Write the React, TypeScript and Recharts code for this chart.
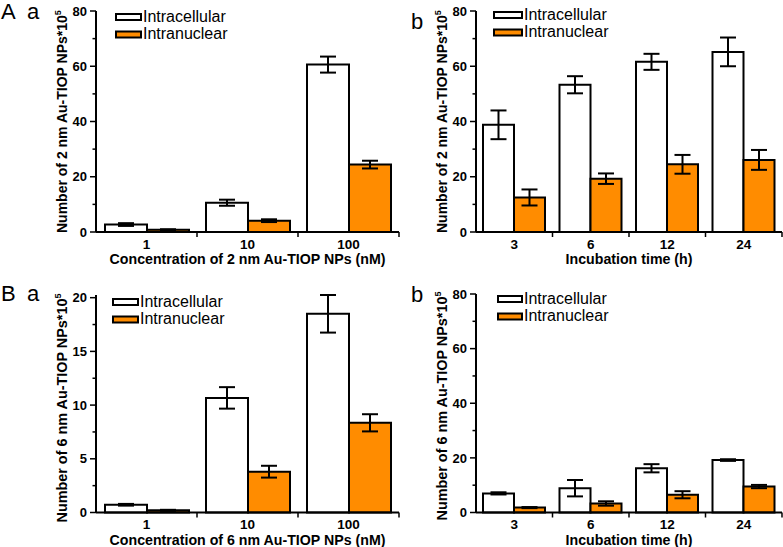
import React from 'react';
import { BarChart, Bar, XAxis, YAxis, ErrorBar, Legend } from 'recharts';

// ---------- data ----------
const concCategories = ['1', '10', '100'];
const timeCategories = ['3', '6', '12', '24'];

const aa2Intracellular = [2.7, 10.6, 60.6];
const aa2IntracellularErr = [0.5, 1.1, 2.9];
const aa2Intranuclear = [0.8, 4.1, 24.4];
const aa2IntranuclearErr = [0.2, 0.5, 1.4];

const ab2Intracellular = [38.8, 53.3, 61.6, 65.2];
const ab2IntracellularErr = [5.2, 3.1, 2.9, 5.2];
const ab2Intranuclear = [12.5, 19.3, 24.5, 26.1];
const ab2IntranuclearErr = [2.9, 1.9, 3.4, 3.6];

const ba6Intracellular = [0.72, 10.67, 18.5];
const ba6IntracellularErr = [0.08, 1.0, 1.75];
const ba6Intranuclear = [0.2, 3.8, 8.35];
const ba6IntranuclearErr = [0.05, 0.55, 0.8];

const bb6Intracellular = [7.0, 8.9, 16.2, 19.2];
const bb6IntracellularErr = [0.4, 3.0, 1.5, 0.3];
const bb6Intranuclear = [1.8, 3.3, 6.5, 9.5];
const bb6IntranuclearErr = [0.2, 0.8, 1.3, 0.6];

const yTicks80 = [0, 10, 20, 30, 40, 50, 60, 70, 80];
const yLabels80 = [0, 20, 40, 60, 80];
const yTicks20 = [0, 2.5, 5, 7.5, 10, 12.5, 15, 17.5, 20];
const yLabels20 = [0, 5, 10, 15, 20];

const legendNames = ['Intracellular', 'Intranuclear'];

const FONT = '"Liberation Sans", Arial, Helvetica, sans-serif';
const ORANGE = '#FF8C00';

function buildRows(cats: string[], intra: number[], intraErr: number[], nuc: number[], nucErr: number[]) {
  return cats.map((c, i) => ({ cat: c, intra: intra[i], intraErr: intraErr[i], nuc: nuc[i], nucErr: nucErr[i] }));
}

type PanelProps = {
  left: number; top: number; width: number; height: number;
  marginTop: number; yAxisWidth: number; xAxisHeight: number;
  data: any[]; yMax: number; yTicks: number[]; yLabels: number[];
  barSize: number; size: string; xLabel: string;
  yLabelStart: number; yLabelFont: number;
  legend: { x: number; y: number; w: number };
};

function Panel(p: PanelProps) {
  const plotW = p.width - p.yAxisWidth - 1;
  const half = plotW / p.data.length / 2;

  const YTick = (props: any) => {
    const { x, y, payload } = props;
    const v = payload.value;
    const major = p.yLabels.includes(v);
    return (
      <g>
        <line x1={x - (major ? 6 : 3.5)} x2={x} y1={y} y2={y} stroke="#000" strokeWidth={1.5} />
        {major && (
          <text x={x - 9} y={y} dy="0.36em" textAnchor="end" fontSize={13} fontWeight="bold" fontFamily={FONT} fill="#000">
            {v}
          </text>
        )}
      </g>
    );
  };

  const XTick = (props: any) => {
    const { x, y, payload } = props;
    return (
      <g>
        <text x={x} y={y + 16.5} textAnchor="middle" fontSize={13.5} fontWeight="bold" fontFamily={FONT} fill="#000">
          {payload.value}
        </text>
        <line x1={x + half} x2={x + half} y1={y} y2={y + 5} stroke="#000" strokeWidth={1.5} />
      </g>
    );
  };

  const yTitle = (props: any) => {
    const vb = props.viewBox || {};
    const bx = vb.x + vb.width - 29;
    const sy = vb.y + vb.height + p.yLabelStart;
    return (
      <text
        x={bx}
        y={sy}
        transform={`rotate(-90, ${bx}, ${sy})`}
        textAnchor="start"
        fontSize={p.yLabelFont}
        fontWeight="bold"
        fontFamily={FONT}
        fill="#000"
      >
        {`Number of ${p.size} nm Au-TIOP NPs*10`}
        <tspan fontSize={9} dy={-6}>5</tspan>
      </text>
    );
  };

  const xTitle = (props: any) => {
    const vb = props.viewBox || {};
    return (
      <text x={vb.x + vb.width / 2} y={vb.y + 32} textAnchor="middle" fontSize={14.2} fontWeight="bold" fontFamily={FONT} fill="#000">
        {p.xLabel}
      </text>
    );
  };

  const lg = p.legend;
  const legendContent = () => (
    <svg width={130} height={40} style={{ display: 'block', overflow: 'visible' }}>
      {legendNames.map((name, i) => (
        <g key={name}>
          <rect x={2} y={5 + i * 17.5} width={lg.w - 2} height={6} fill={i === 0 ? '#fff' : ORANGE} stroke="#000" strokeWidth={2} />
          <text x={lg.w + 2} y={12.5 + i * 17.5} fontSize={16} fontFamily={FONT} fill="#000">{name}</text>
        </g>
      ))}
    </svg>
  );

  return (
    <div style={{ position: 'absolute', left: p.left, top: p.top, width: p.width, height: p.height }}>
      <BarChart
        width={p.width}
        height={p.height}
        data={p.data}
        margin={{ top: p.marginTop, right: 1, left: 0, bottom: 0 }}
        barGap={0}
      >
        <XAxis
          dataKey="cat"
          height={p.xAxisHeight}
          axisLine={{ stroke: '#000', strokeWidth: 2 }}
          tickLine={false}
          tickSize={0}
          tickMargin={0}
          interval={0}
          tick={XTick}
          label={xTitle}
        />
        <YAxis
          width={p.yAxisWidth}
          domain={[0, p.yMax]}
          ticks={p.yTicks}
          interval={0}
          allowDecimals
          axisLine={{ stroke: '#000', strokeWidth: 2 }}
          tickLine={false}
          tickSize={0}
          tickMargin={0}
          tick={YTick}
          label={yTitle}
        />
        <Legend
          layout="vertical"
          align="center"
          verticalAlign="middle"
          wrapperStyle={{ left: lg.x - p.left - 1, top: lg.y - p.top - 4, width: 130, height: 40, margin: 0, padding: 0 }}
          content={legendContent}
        />
        <Bar dataKey="intra" name={legendNames[0]} fill="#fff" stroke="#000" strokeWidth={2} barSize={p.barSize} isAnimationActive={false}>
          <ErrorBar dataKey="intraErr" width={8} stroke="#000" strokeWidth={2} />
        </Bar>
        <Bar dataKey="nuc" name={legendNames[1]} fill={ORANGE} stroke="#000" strokeWidth={2} barSize={p.barSize} isAnimationActive={false}>
          <ErrorBar dataKey="nucErr" width={8} stroke="#000" strokeWidth={2} />
        </Bar>
      </BarChart>
    </div>
  );
}

export default function App() {
  const aaRows = buildRows(concCategories, aa2Intracellular, aa2IntracellularErr, aa2Intranuclear, aa2IntranuclearErr);
  const abRows = buildRows(timeCategories, ab2Intracellular, ab2IntracellularErr, ab2Intranuclear, ab2IntranuclearErr);
  const baRows = buildRows(concCategories, ba6Intracellular, ba6IntracellularErr, ba6Intranuclear, ba6IntranuclearErr);
  const bbRows = buildRows(timeCategories, bb6Intracellular, bb6IntracellularErr, bb6Intranuclear, bb6IntranuclearErr);

  const title = { fontSize: 22, fontFamily: FONT, fill: '#000' } as any;

  return (
    <div style={{ position: 'absolute', left: 0, top: 0, width: 783, height: 547, background: '#fff', overflow: 'hidden' }}>
      <Panel left={0} top={0} width={400} height={270} marginTop={11} yAxisWidth={96} xAxisHeight={38}
        data={aaRows} yMax={80} yTicks={yTicks80} yLabels={yLabels80} barSize={42} size="2"
        xLabel="Concentration of 2 nm Au-TIOP NPs (nM)" yLabelStart={1} yLabelFont={14}
        legend={{ x: 115, y: 13, w: 27 }} />
      <Panel left={390} top={0} width={393} height={270} marginTop={11} yAxisWidth={86} xAxisHeight={38}
        data={abRows} yMax={80} yTicks={yTicks80} yLabels={yLabels80} barSize={31} size="2"
        xLabel="Incubation time (h)" yLabelStart={1} yLabelFont={14}
        legend={{ x: 493, y: 11, w: 30 }} />
      <Panel left={0} top={270} width={400} height={277} marginTop={25} yAxisWidth={96} xAxisHeight={34.5}
        data={baRows} yMax={20} yTicks={yTicks20} yLabels={yLabels20} barSize={42} size="6"
        xLabel="Concentration of 6 nm Au-TIOP NPs (nM)" yLabelStart={10} yLabelFont={14.4}
        legend={{ x: 112, y: 298, w: 27 }} />
      <Panel left={390} top={270} width={393} height={277} marginTop={24} yAxisWidth={86} xAxisHeight={34.5}
        data={bbRows} yMax={80} yTicks={yTicks80} yLabels={yLabels80} barSize={31} size="6"
        xLabel="Incubation time (h)" yLabelStart={8} yLabelFont={14.4}
        legend={{ x: 497, y: 295, w: 26 }} />
      <svg width={783} height={547} style={{ position: 'absolute', left: 0, top: 0, pointerEvents: 'none' }}>
        <text x={1} y={19} {...title}>A</text>
        <text x={27} y={19} {...title}>a</text>
        <text x={411} y={28.5} {...title}>b</text>
        <text x={1} y={300.5} {...title}>B</text>
        <text x={27} y={300.5} {...title}>a</text>
        <text x={411} y={302} {...title}>b</text>
      </svg>
    </div>
  );
}
